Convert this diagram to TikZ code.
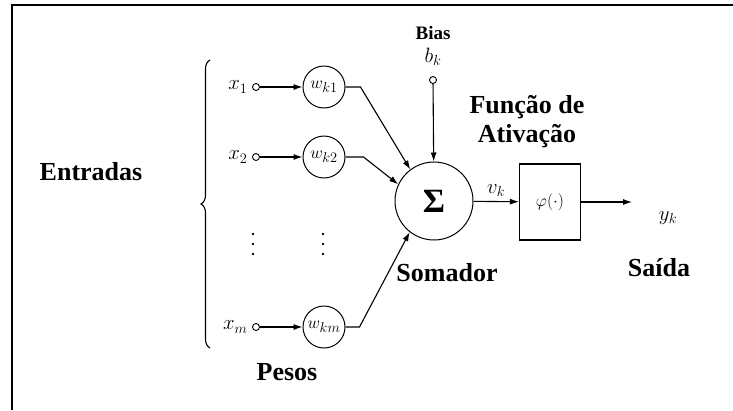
\documentclass[tikz,border=0pt]{standalone}
\usepackage{fontspec}
\setmainfont{Liberation Serif}
\usetikzlibrary{arrows.meta,decorations.pathreplacing}

\begin{document}
\begin{tikzpicture}[
    x=1pt, y=-1pt,
    port/.style={circle, draw, line width=0.9pt, inner sep=0pt, minimum size=7pt},
    weight/.style={circle, draw, line width=1pt, inner sep=0pt, minimum size=42pt, font=\fontsize{19}{20}\selectfont},
    title/.style={font=\fontsize{26}{29}\bfseries\selectfont, align=center},
    vdot/.style={circle, fill, inner sep=0pt, minimum size=2.6pt},
    arrow/.style={-{Latex[length=9pt, width=6pt]}, line width=1.1pt}
]
\useasboundingbox (0,0) rectangle (733,410);
\draw[line width=1.2pt] (12,410) -- (12,5) -- (733,5);

% Entradas e pesos
\node[title] (ent) at (91,172) {Entradas};
\draw[line width=1.1pt, decorate, decoration={brace, amplitude=9pt}] (210,348) -- (210,60);

\node[port, label={[label distance=1pt, font=\fontsize{20}{20}\selectfont]left:$x_1$}] (in1) at (256,87) {};
\node[port, label={[label distance=1pt, font=\fontsize{20}{20}\selectfont]left:$x_2$}] (in2) at (256,157) {};
\node[port, label={[label distance=1pt, font=\fontsize{20}{20}\selectfont]left:$x_m$}] (inm) at (256,327) {};

\node[weight] (w1) at (324,87) {$w_{k1}$};
\node[weight] (w2) at (324,157) {$w_{k2}$};
\node[weight] (wm) at (324,327) {$w_{km}$};

\foreach \i/\y in {1/234, 2/244, 3/254} {
    \node[vdot] (da\i) at (253,\y) {};
    \node[vdot] (db\i) at (323,\y) {};
}
\node[title] (pesos) at (287,372) {Pesos};

% Somador
\node[circle, draw, line width=1pt, minimum size=78pt, inner sep=0pt, font=\fontsize{34}{34}\bfseries\selectfont] (sum) at (434,201) {Σ};
\node[title] (somador) at (447,273) {Somador};

\node[port] (bias) at (433,80) {};
\node[font=\fontsize{22}{22}\selectfont] (bk) at (433,57) {$b_k$};
\node[font=\fontsize{19}{19}\bfseries\selectfont] (biastxt) at (433,33) {Bias};

% Ativacao
\node[draw, line width=1.1pt, minimum width=61pt, minimum height=76pt, font=\fontsize{19}{19}\selectfont] (act) at (550,202) {$\varphi(\cdot)$};
\node[title] (func) at (527,122) {Função de\\Ativação};
\coordinate (out) at (632,202);
\node[font=\fontsize{22}{22}\selectfont] (yk) at (668,218) {$y_k$};
\node[title] (saida) at (659,268) {Saída};

\draw[arrow] (in1) -- (w1);
\draw[arrow] (in2) -- (w2);
\draw[arrow] (inm) -- (wm);
\draw[arrow] (w1.east) -- ++(15,0) -- (sum.127);
\draw[arrow] (w2.east) -- ++(18,0) -- (sum.155);
\draw[arrow] (wm.east) -- ++(14,0) -- (sum.232);
\draw[arrow] (bias) -- (sum);
\draw[arrow] (sum) -- (act) node[midway, above=1pt, font=\fontsize{21}{21}\selectfont] {$v_k$};
\draw[arrow] (act) -- (out);

\end{tikzpicture}
\end{document}
